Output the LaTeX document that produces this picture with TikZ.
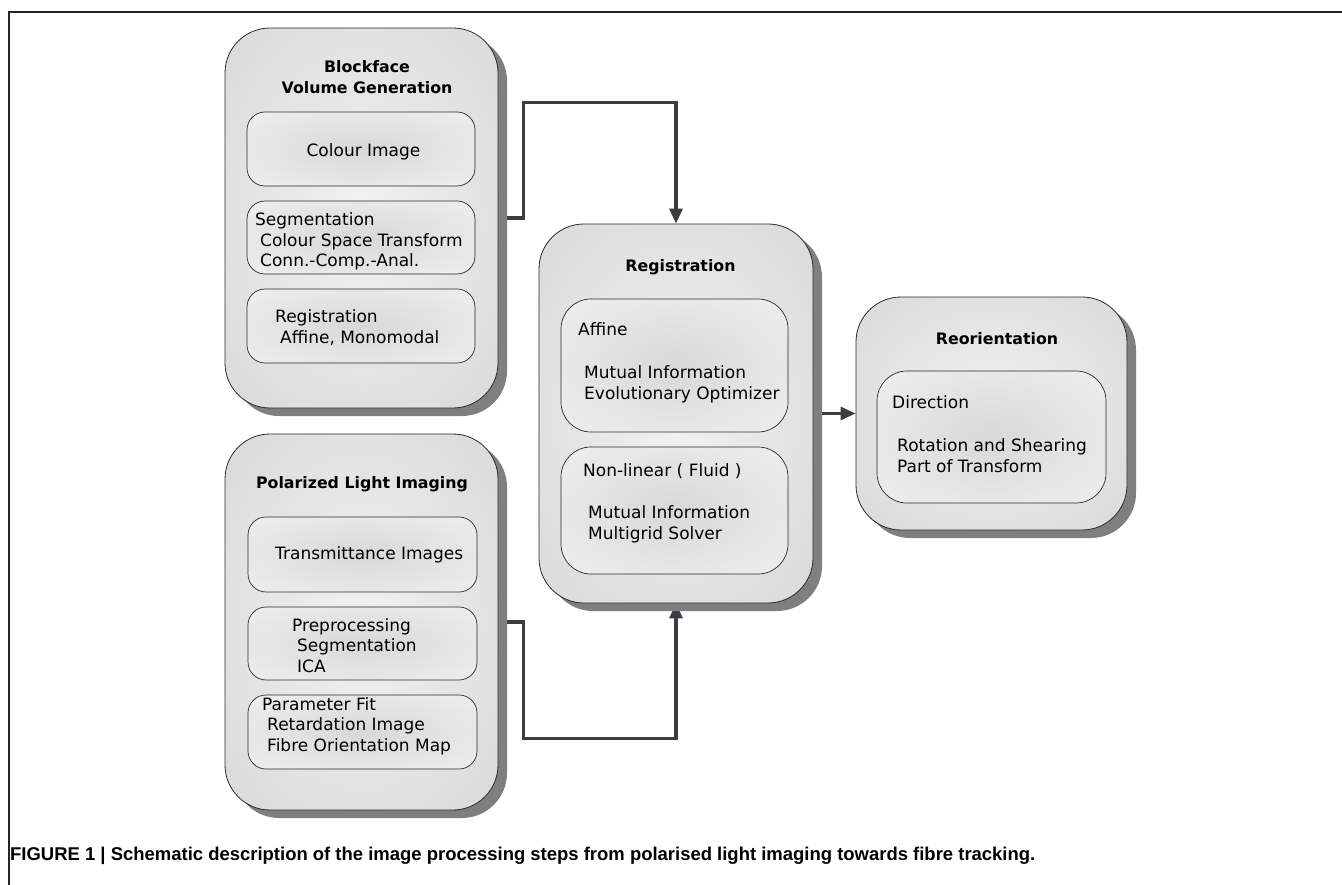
\documentclass[tikz,border=0pt]{standalone}
\usepackage{graphicx}
\usepackage{fontspec}
\setmainfont{DejaVu Sans}
\newfontfamily\capfont{Liberation Sans}
\usetikzlibrary{arrows.meta,shadows}
\pgfdeclarelayer{bg}
\pgfsetlayers{bg,main}
\definecolor{linec}{HTML}{3C3C42}
\definecolor{shadowc}{HTML}{7F7F7F}
\definecolor{obc}{HTML}{CFCFCF}
\definecolor{occ}{HTML}{F2F2F2}
\definecolor{ibc}{HTML}{FBFBFB}
\definecolor{icc}{HTML}{D8D8D8}
\definecolor{edgec}{HTML}{2A2A2A}
\pgfdeclareradialshading{outershade}{\pgfpoint{0bp}{0bp}}{color(0bp)=(occ); color(50bp)=(obc); color(72bp)=(obc)}
\pgfdeclareradialshading{innershade}{\pgfpoint{0bp}{0bp}}{color(0bp)=(icc); color(55bp)=(ibc); color(72bp)=(ibc)}
\tikzset{
  outerbox/.style={draw=edgec, line width=0.8pt, rounded corners=45pt, shade, shading=outershade,
    drop shadow={shadow xshift=9pt, shadow yshift=-8pt, fill=shadowc, opacity=1}, inner sep=0pt},
  innerbox/.style={draw=edgec, line width=0.7pt, rounded corners=18pt, shade, shading=innershade, inner sep=0pt},
  bigin/.style={innerbox, rounded corners=30pt},
  btxt/.style={anchor=base west, inner sep=0pt, font=\fontsize{17}{20}\selectfont},
  ctxt/.style={anchor=base, inner sep=0pt, font=\fontsize{17}{20}\selectfont},
  ttxt/.style={anchor=base, inner sep=0pt, font=\bfseries\fontsize{15.8}{19}\selectfont},
  conn/.style={draw=linec, line width=3.2pt, line join=miter, -{Triangle[length=15pt,width=13pt]}},
  framec/.style={draw=black!85, line width=1.2pt}
}
\begin{document}
\begin{tikzpicture}[x=1pt,y=-1pt]
\useasboundingbox (0,0) rectangle (1342,885);
\draw[framec] (9,885) -- (9,12) -- (1342,12);

% outer boxes
\node[outerbox, minimum width=273pt, minimum height=380pt] (bf) at (361.5,218) {};
\node[outerbox, minimum width=273pt, minimum height=376pt] (pl) at (361.5,622) {};
\node[outerbox, minimum width=274pt, minimum height=379pt] (reg) at (676,413.5) {};
\node[outerbox, minimum width=271pt, minimum height=233pt] (ro) at (991.5,413.5) {};

% inner boxes
\node[innerbox, minimum width=228pt, minimum height=74pt] (ci) at (361,149) {};
\node[innerbox, minimum width=228pt, minimum height=73pt] (seg) at (361,237.5) {};
\node[innerbox, minimum width=228pt, minimum height=74pt] (breg) at (361,326) {};
\node[innerbox, minimum width=229pt, minimum height=75pt] (ti) at (362.5,554.5) {};
\node[innerbox, minimum width=229pt, minimum height=73pt] (pp) at (362.5,643.5) {};
\node[innerbox, minimum width=229pt, minimum height=74pt] (pf) at (362.5,732) {};
\node[bigin, minimum width=227pt, minimum height=133pt] (aff) at (674.5,365.5) {};
\node[bigin, minimum width=227pt, minimum height=127pt] (nl) at (674.5,510.5) {};
\node[bigin, minimum width=229pt, minimum height=132pt] (dir) at (991.5,437) {};

% titles
\node[ttxt] (t1a) at (367,73) {Blockface};
\node[ttxt] (t1b) at (367,94) {Volume Generation};
\node[ttxt] (t2) at (362,488) {Polarized Light Imaging};
\node[ttxt] (t3) at (680.5,272) {Registration};
\node[ttxt] (t4) at (997,345) {Reorientation};

% Blockface texts
\node[ctxt] (x1) at (363.5,157) {Colour Image};
\node[btxt] (x2) at (255,226) {Segmentation};
\node[btxt] (x3) at (260,246.5) {Colour Space Transform};
\node[btxt] (x4) at (260,267) {Conn.-Comp.-Anal.};
\node[btxt] (x5) at (275,323) {Registration};
\node[btxt] (x6) at (280,343.5) {Affine, Monomodal};

% PLI texts
\node[btxt] (y1) at (275,559) {Transmittance Images};
\node[btxt] (y2) at (292,631) {Preprocessing};
\node[btxt] (y3) at (297,651.5) {Segmentation};
\node[btxt] (y4) at (297,672) {ICA};
\node[btxt] (y5) at (262,710) {Parameter Fit};
\node[btxt] (y6) at (267,730.5) {Retardation Image};
\node[btxt] (y7) at (267,751) {Fibre Orientation Map};

% Registration texts
\node[btxt] (z1) at (578,336) {Affine};
\node[btxt] (z2) at (584,378) {Mutual Information};
\node[btxt] (z3) at (584,399.5) {Evolutionary Optimizer};
\node[btxt] (z4) at (583,476) {Non-linear ( Fluid )};
\node[btxt] (z5) at (588,518) {Mutual Information};
\node[btxt] (z6) at (588,539) {Multigrid Solver};

% Reorientation texts
\node[btxt] (w1) at (892,409) {Direction};
\node[btxt] (w2) at (897,451) {Rotation and Shearing};
\node[btxt] (w3) at (897,472) {Part of Transform};

% connectors
\begin{pgfonlayer}{bg}
\draw[conn] (bf.east) -- ++(25,0) |- ([yshift=121pt]reg.north) -- (reg.north);
\draw[conn] (pl.east) -- ++(25,0) |- ([yshift=-135pt]reg.south) -- (reg.south);
\draw[conn] (reg.east) -- (ro.west);
\end{pgfonlayer}

% caption
\node[anchor=base west, inner sep=0pt] (cap) at (10,860) {\resizebox{1025pt}{\height}{\capfont\bfseries\fontsize{18.5}{20}\selectfont FIGURE 1 | Schematic description of the image processing steps from polarised light imaging towards fibre tracking.}};
\end{tikzpicture}
\end{document}
